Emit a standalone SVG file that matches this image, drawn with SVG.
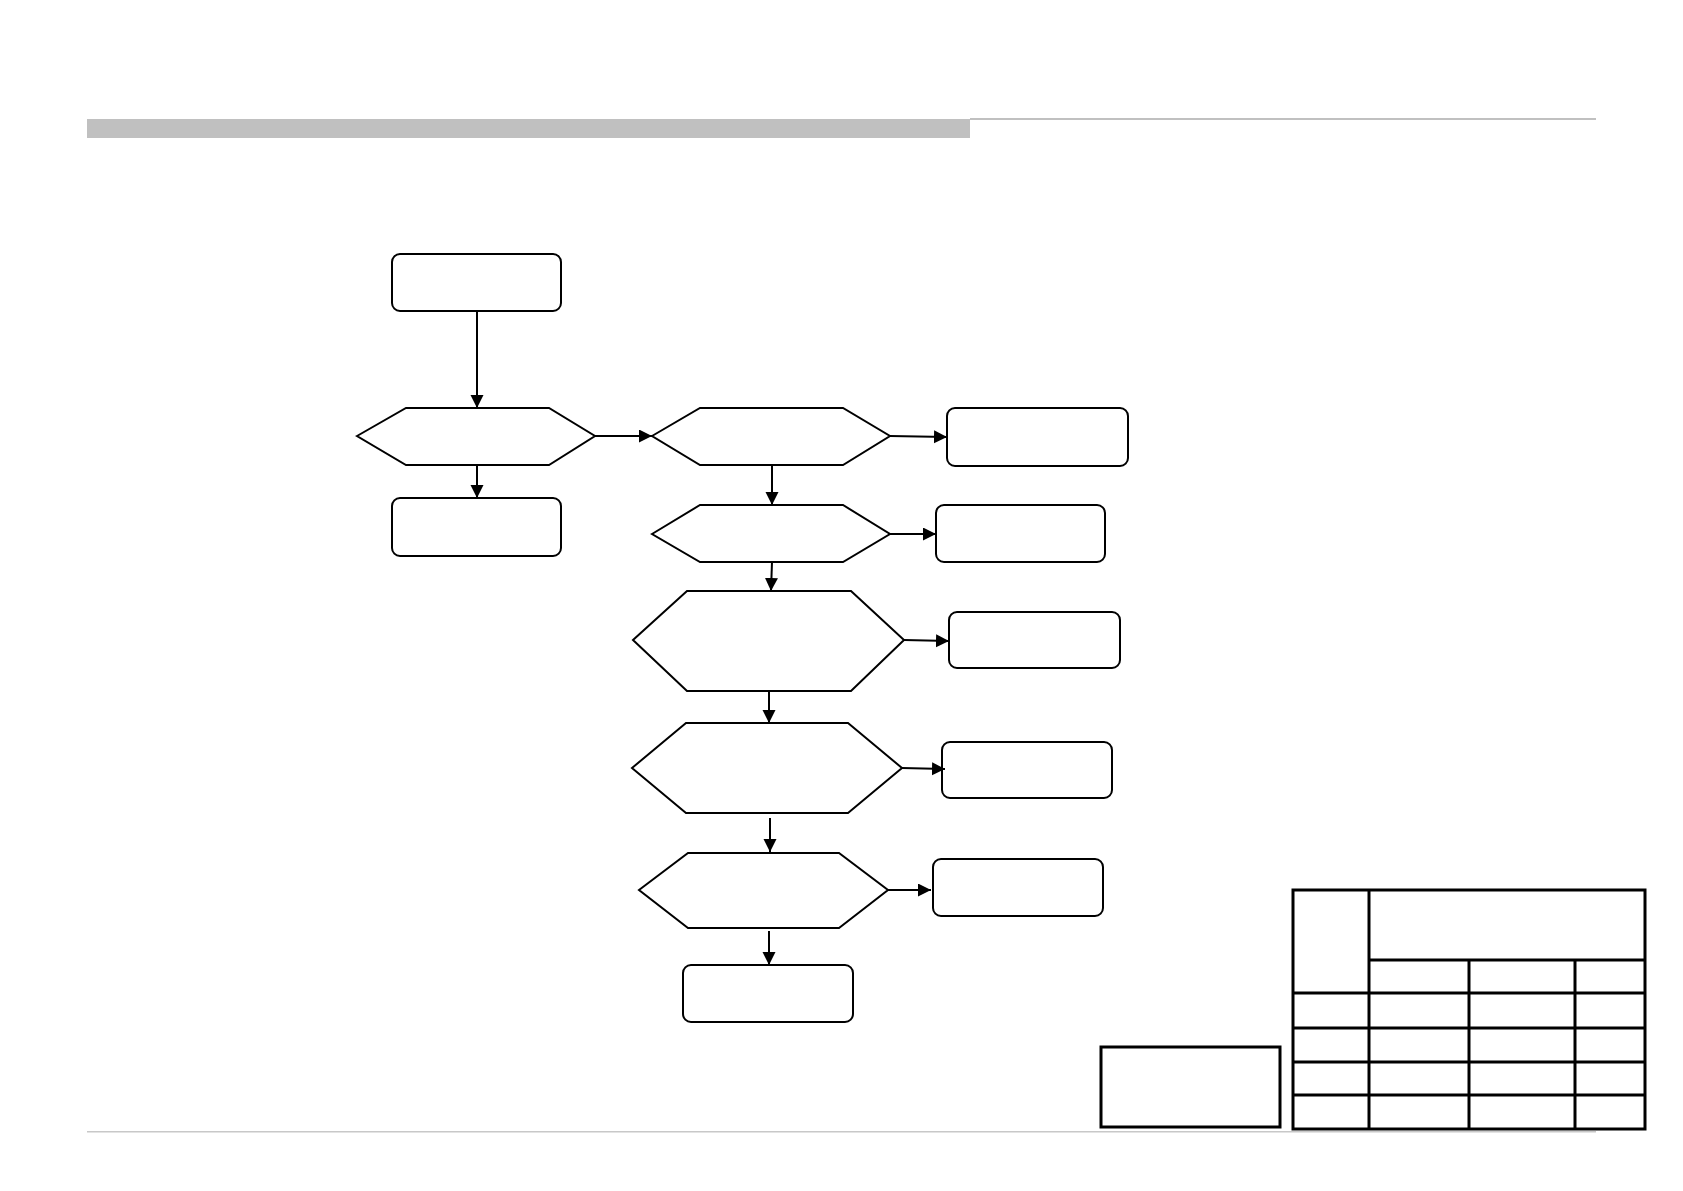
<svg xmlns="http://www.w3.org/2000/svg" width="1683" height="1191" viewBox="0 0 1683 1191">
<style>
.box{fill:#fff;stroke:#000;stroke-width:2}
.hex{fill:#fff;stroke:#000;stroke-width:2;stroke-linejoin:miter}
.conn{fill:none;stroke:#000;stroke-width:2;marker-end:url(#ah)}
.tb{fill:none;stroke:#000;stroke-width:3}
</style>
<defs>
<marker id="ah" markerUnits="userSpaceOnUse" markerWidth="16" markerHeight="14" refX="13" refY="6.5" orient="auto">
<path d="M0,0 L13,6.5 L0,13 z" fill="#000"/>
</marker>
</defs>
<rect x="0" y="0" width="1683" height="1191" fill="#fff"/>
<g id="header">
<rect x="87" y="119" width="883" height="19" fill="#c0c0c0"/>
<rect x="970" y="118" width="626" height="2" fill="#c0c0c0"/>
</g>
<g id="footer">
<rect x="87" y="1131" width="1509" height="1.5" fill="#c8c8c8"/>
</g>
<g id="n_start"><rect class="box" x="392" y="254" width="169" height="57" rx="8"/></g>
<g id="n_d1"><polygon class="hex" points="357,436 406,408 549,408 595,436 549,465 406,465"/></g>
<g id="n_b1"><rect class="box" x="392" y="498" width="169" height="58" rx="8"/></g>
<g id="n_d2"><polygon class="hex" points="652,436 700,408 843,408 890,436 843,465 700,465"/></g>
<g id="n_b2"><rect class="box" x="947" y="408" width="181" height="58" rx="8"/></g>
<g id="n_d3"><polygon class="hex" points="652,534 700,505 843,505 890,534 843,562 700,562"/></g>
<g id="n_b3"><rect class="box" x="936" y="505" width="169" height="57" rx="8"/></g>
<g id="n_d4"><polygon class="hex" points="633,640 687,591 851,591 904,640 851,691 687,691"/></g>
<g id="n_b4"><rect class="box" x="949" y="612" width="171" height="56" rx="8"/></g>
<g id="n_d5"><polygon class="hex" points="632,768 686,723 848,723 902,768 848,813 686,813"/></g>
<g id="n_b5"><rect class="box" x="942" y="742" width="170" height="56" rx="8"/></g>
<g id="n_d6"><polygon class="hex" points="639,890 688,853 839,853 888,890 839,928 688,928"/></g>
<g id="n_b6"><rect class="box" x="933" y="859" width="170" height="57" rx="8"/></g>
<g id="n_end"><rect class="box" x="683" y="965" width="170" height="57" rx="8"/></g>
<g id="n_note"><rect class="tb" x="1101" y="1047" width="179" height="80"/></g>
<g id="n_table">
<rect class="tb" x="1293" y="890" width="352" height="239"/>
<line class="tb" x1="1369" y1="890" x2="1369" y2="1129"/>
<line class="tb" x1="1369" y1="960" x2="1645" y2="960"/>
<line class="tb" x1="1469" y1="960" x2="1469" y2="1129"/>
<line class="tb" x1="1575" y1="960" x2="1575" y2="1129"/>
<line class="tb" x1="1293" y1="993" x2="1645" y2="993"/>
<line class="tb" x1="1293" y1="1028" x2="1645" y2="1028"/>
<line class="tb" x1="1293" y1="1062" x2="1645" y2="1062"/>
<line class="tb" x1="1293" y1="1095" x2="1645" y2="1095"/>
</g>
<g id="connectors">
<line class="conn" x1="477" y1="311" x2="477" y2="408"/>
<line class="conn" x1="477" y1="465" x2="477" y2="498"/>
<line class="conn" x1="595" y1="436" x2="652" y2="436"/>
<line class="conn" x1="890" y1="436" x2="947" y2="437"/>
<line class="conn" x1="772" y1="465" x2="772" y2="505"/>
<line class="conn" x1="890" y1="534" x2="936" y2="534"/>
<line class="conn" x1="772" y1="562" x2="771" y2="591"/>
<line class="conn" x1="904" y1="640" x2="949" y2="641"/>
<line class="conn" x1="769" y1="691" x2="769" y2="723"/>
<line class="conn" x1="902" y1="768" x2="945" y2="769"/>
<line class="conn" x1="770" y1="818" x2="770" y2="852"/>
<line class="conn" x1="888" y1="890" x2="931" y2="890"/>
<line class="conn" x1="769" y1="931" x2="769" y2="965"/>
</g>
</svg>
